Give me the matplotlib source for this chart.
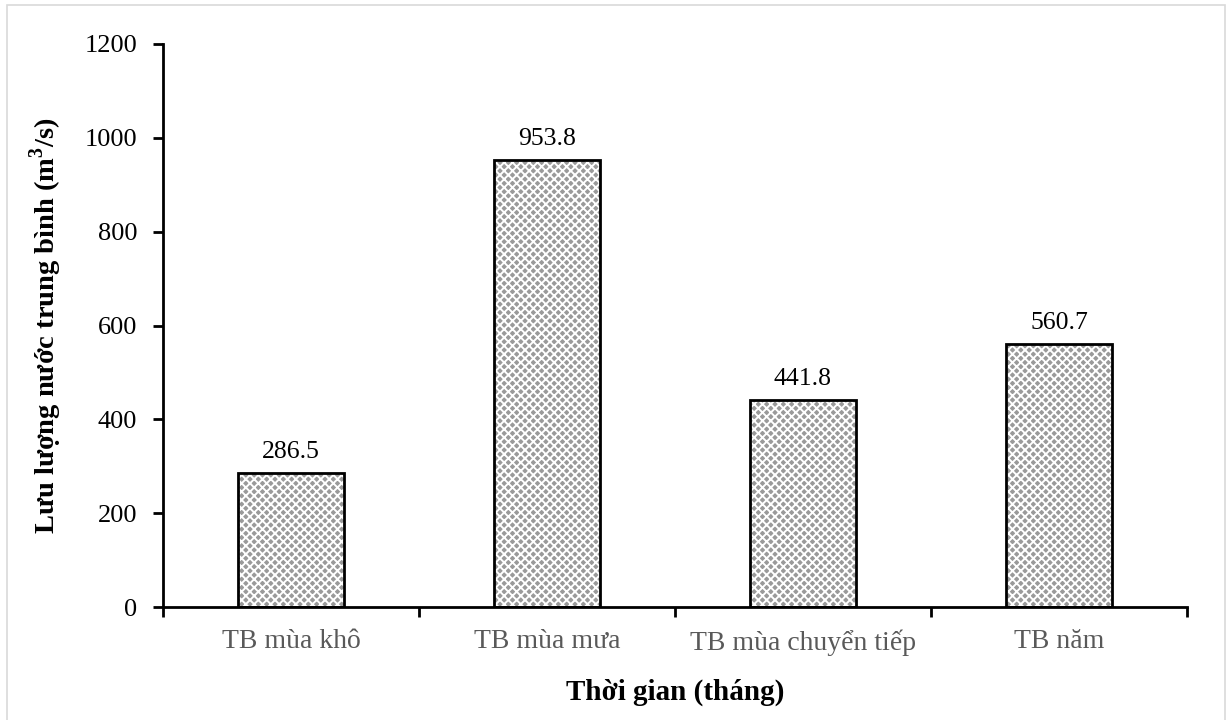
import matplotlib.pyplot as plt
from matplotlib.patches import Rectangle

categories = ["TB mùa khô", "TB mùa mưa", "TB mùa chuyển tiếp", "TB năm"]
flow = [286.5, 953.8, 441.8, 560.7]
yticks = [0, 200, 400, 600, 800, 1000, 1200]

plt.rcParams['font.family'] = ['Liberation Serif', 'DejaVu Serif']
plt.rcParams['mathtext.fontset'] = 'custom'
plt.rcParams['mathtext.bf'] = 'Liberation Serif:bold'
plt.rcParams['hatch.linewidth'] = 1.4

W, H = 1227, 720
fig = plt.figure(figsize=(W / 100, H / 100), dpi=100)
ax = fig.add_axes([163 / W, 1 - 607 / H, (1187 - 163) / W, (607 - 44) / H])

# light frame around the whole chart
fig.patches.append(Rectangle((7 / W, -0.05), (1225 - 7) / W, 1 - 5 / H + 0.05,
                             transform=fig.transFigure, fill=False,
                             edgecolor="#d9d9d9", lw=1.2))

x = list(range(len(categories)))
# gray fill with a dense white cross hatch, then a black outline on top
ax.bar(x, flow, width=0.415, color="#9a9a9a", edgecolor="white", hatch="xxxx", lw=0)
ax.bar(x, flow, width=0.415, facecolor="none", edgecolor="black", lw=2)

for xi, v in zip(x, flow):
    ax.annotate(f"{v:.1f}", (xi, v), xytext=(0, 7), textcoords="offset points",
                ha="center", va="bottom", fontsize=18.5)

ax.set_xlim(-0.5, len(categories) - 0.5)
ax.set_ylim(0, 1200)
ax.set_yticks(yticks)
ax.set_yticklabels([str(t) for t in yticks], fontsize=19)

ax.set_xticks([i - 0.5 for i in range(len(categories) + 1)])
ax.set_xticklabels([])
ax.set_xticks(x, minor=True)
ax.set_xticklabels(categories, minor=True, fontsize=20, color="#595959")
ax.tick_params(axis="x", which="major", direction="out", length=7, width=2)
ax.tick_params(axis="x", which="minor", length=0, pad=16)
ax.tick_params(axis="y", direction="out", length=7, width=2, pad=11.5)

for s in ["top", "right"]:
    ax.spines[s].set_visible(False)
for s in ["left", "bottom"]:
    ax.spines[s].set_linewidth(2)

ax.set_ylabel(r"Lưu lượng nước trung bình (m$^\mathbf{3}$/s)", fontsize=20.5, fontweight="bold")
ax.set_xlabel("Thời gian (tháng)", fontsize=21, fontweight="bold")
ax.yaxis.set_label_coords(-0.097, 0.5)
ax.xaxis.set_label_coords(0.5, -0.127)

fig.savefig("out.png", dpi=100)
